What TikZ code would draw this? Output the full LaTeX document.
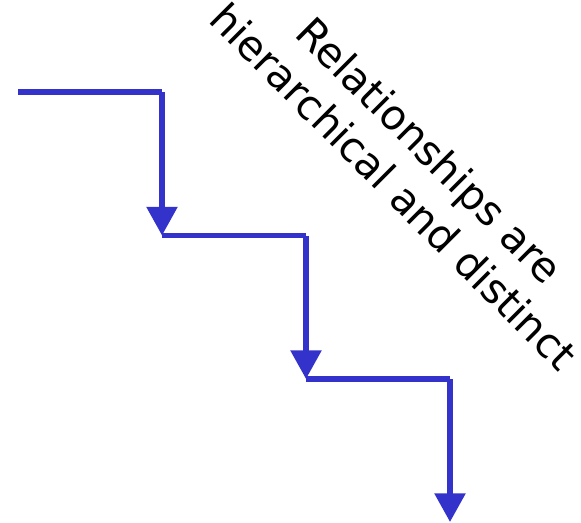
\documentclass[tikz,border=0pt]{standalone}
\usepackage{fontspec}
\setmainfont{DejaVu Sans}
\usetikzlibrary{arrows.meta}
\definecolor{stepblue}{RGB}{51,51,204}
\tikzset{
  tread/.style={draw=stepblue, line width=4.2pt, line cap=butt},
  riser/.style={draw=stepblue, line width=4.2pt, line cap=butt,
    -{Triangle[width=22.5pt,length=21.5pt]}},
  caption/.style={rotate=-45, align=center, font=\fontsize{31}{38.5}\selectfont, inner sep=0pt}
}
\begin{document}
\begin{tikzpicture}[x=0.75pt, y=-0.75pt]
  \useasboundingbox (0,0) rectangle (581,522);
  % corner points of the staircase
  \coordinate (s0) at (18,92);
  \coordinate (c1) at (162,92);
  \coordinate (t1) at (162,235.5);
  \coordinate (c2) at (306,235.5);
  \coordinate (t2) at (306,379);
  \coordinate (c3) at (450,379);
  \coordinate (t3) at (450,522);
  % treads and descending risers
  \draw[tread] (s0) -- (c1);
  \draw[riser] (c1) -- (t1);
  \draw[tread] (t1) -- (c2);
  \draw[riser] (c2) -- (t2);
  \draw[tread] (t2) -- (c3);
  \draw[riser] (c3) -- (t3);
  % diagonal caption
  \node[caption] (label) at (412,168) {Relationships are\\hierarchical and distinct};
\end{tikzpicture}
\end{document}
